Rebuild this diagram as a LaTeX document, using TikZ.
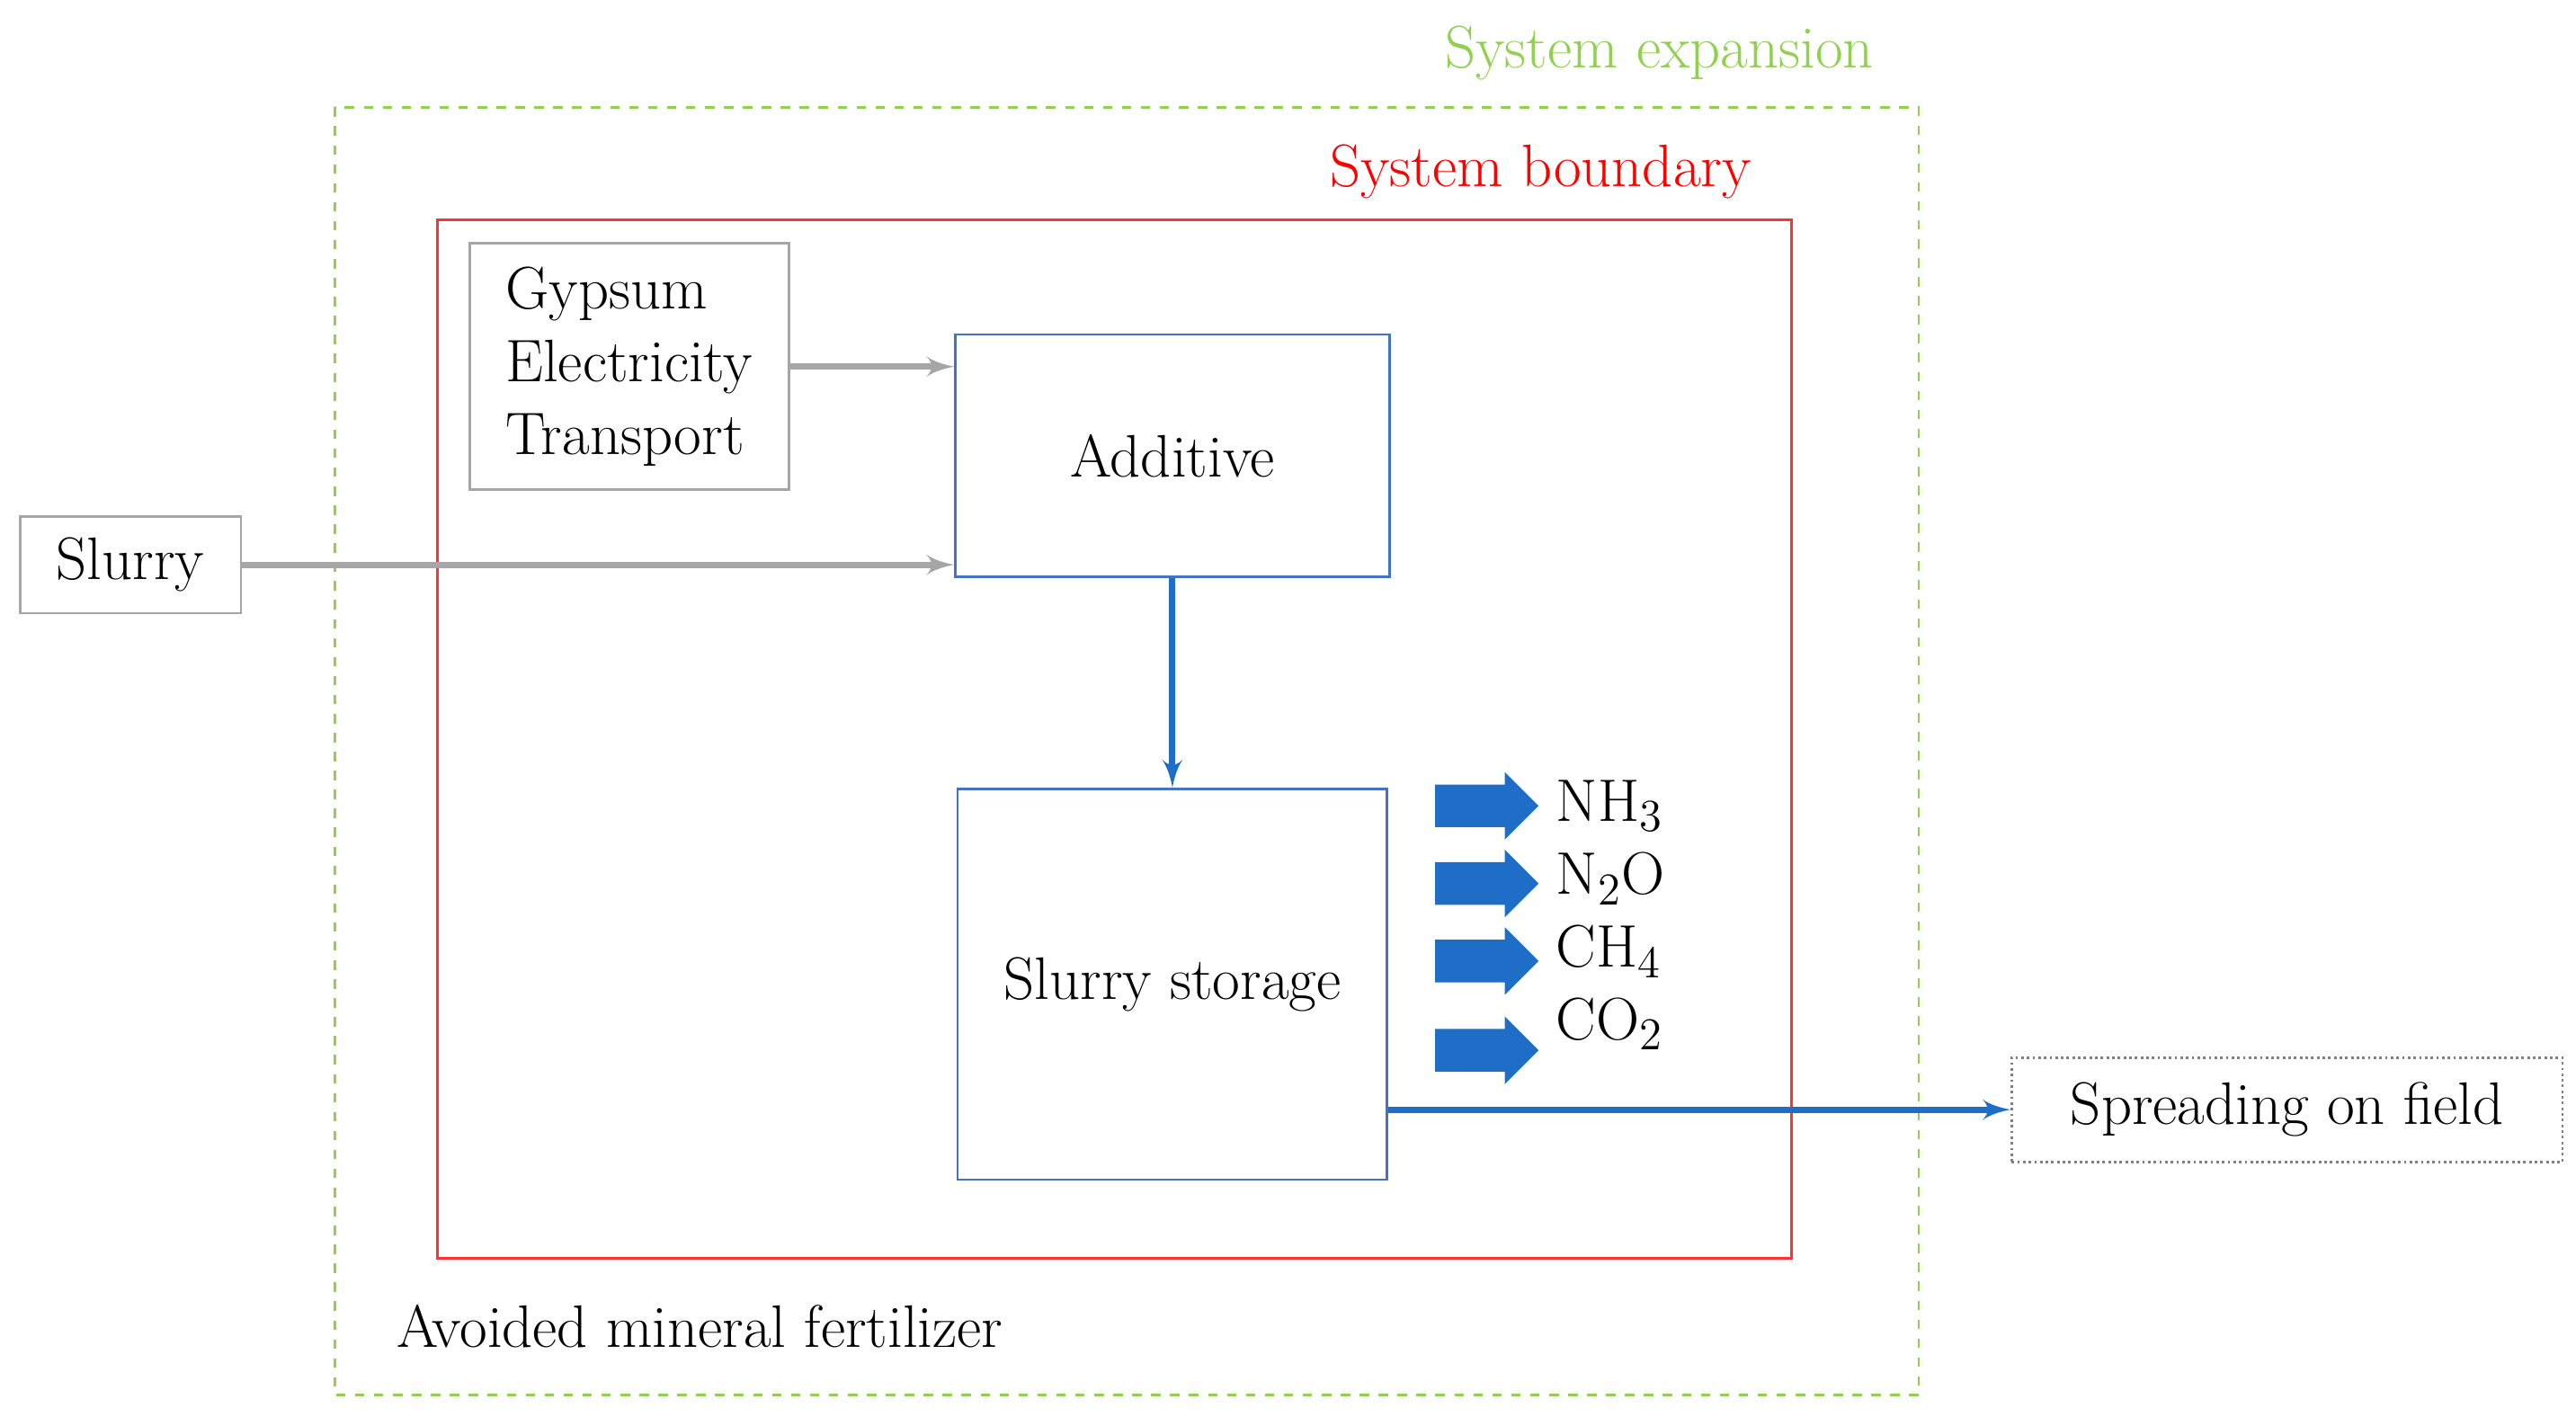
\documentclass[tikz,border=0pt]{standalone}
\usepackage{tikz}
\usetikzlibrary{arrows,positioning,shapes.arrows}
\definecolor{bblue}{RGB}{68,114,196}
\definecolor{emblue}{RGB}{30,110,200}
\definecolor{sgreen}{RGB}{146,208,80}
\tikzstyle{txt} = [font=\fontsize{19}{23}\selectfont, inner sep=0pt]
\tikzstyle{greybox} = [draw=black!35, thick, fill=white, font=\fontsize{19}{23}\selectfont, align=left]
\tikzstyle{process} = [draw=bblue, thick, font=\fontsize{19}{23}\selectfont, text centered]
\tikzstyle{arrow} = [draw, line width=2pt, color=black!35, -latex']
\tikzstyle{flow} = [draw, line width=2pt, color=emblue, -latex']
\tikzstyle{emission} = [single arrow, fill=emblue, minimum height=1.15cm, single arrow head extend=0.14cm, inner sep=0.23cm]
\begin{document}
\begin{tikzpicture}[x=0.01837cm,y=-0.01837cm]
\useasboundingbox (0,0) rectangle (1560,858);
% boundaries
\draw[sgreen, dashed, thick] (203,65) rectangle (1162,845);
\node[txt, text=sgreen] (sexp) at (1005,32) {System expansion};
\draw[red!80, thick] (265,133) rectangle (1085,762);
\node[txt, text=red] (sbound) at (933,104) {System boundary};
\node[txt, anchor=west] (avoid) at (240,803) {Avoided mineral fertilizer};
% boxes
\node[greybox, minimum width=3.55cm, minimum height=2.74cm] (gyp) at (381,222) {Gypsum\\Electricity\\Transport};
\node[process, minimum width=4.83cm, minimum height=2.7cm] (add) at (710,276) {Additive};
\node[greybox, minimum width=2.46cm, minimum height=1.08cm] (slurry) at (79,342) {Slurry};
\node[process, minimum width=4.78cm, minimum height=4.35cm] (store) at (710,596) {Slurry storage};
\node[draw=black!50, densely dotted, thick, minimum width=6.13cm, minimum height=1.16cm, font=\fontsize{19}{23}\selectfont] (spread) at (1385,672) {Spreading on field};
% connectors
\path [arrow] (gyp.east |- 0,222) -- (add.west |- 0,222);
\path [arrow] (slurry.east) -- (add.west |- slurry.east);
\path [flow] (add.south) -- (store.north);
\path [flow] (store.east |- 0,672) -- (spread.west);
% emissions
\foreach \y/\n in {488/a, 535/b, 582/c, 636/d}{
  \node[emission] (em\n) at (894,\y) {};
}
\node[txt, anchor=west] (nh) at (942,488) {NH$_3$};
\node[txt, anchor=west] (no) at (942,532) {N$_2$O};
\node[txt, anchor=west] (ch) at (942,576) {CH$_4$};
\node[txt, anchor=west] (co) at (942,620) {CO$_2$};
\end{tikzpicture}
\end{document}
